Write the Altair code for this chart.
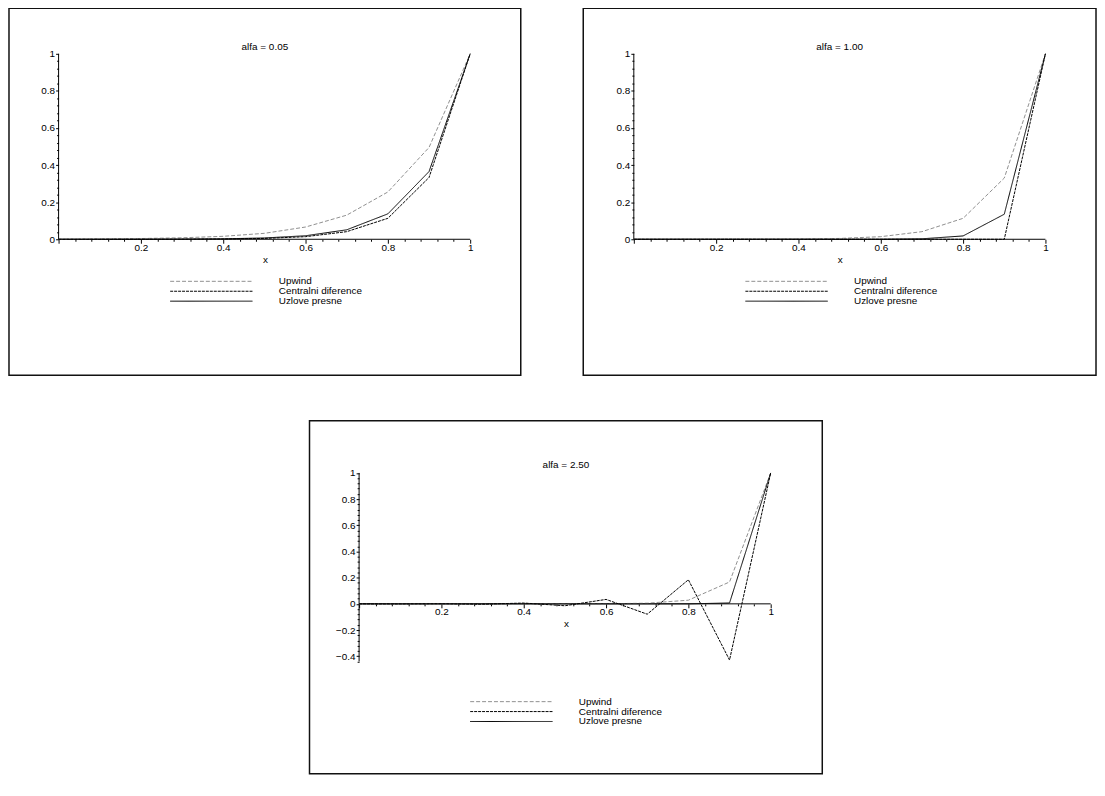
import math
import altair as alt
import pandas as pd

FONT = "Liberation Sans"

# ---- data ----
x_nodes = [0.0, 0.1, 0.2, 0.3, 0.4, 0.5, 0.6, 0.7, 0.8, 0.9, 1.0]
series_names = ["Upwind", "Centralni diference", "Uzlove presne"]

titles = ["alfa = 0.05", "alfa = 1.00", "alfa = 2.50"]

upwind_005 = [0, 0.002, 0.004, 0.008, 0.016, 0.032, 0.066, 0.13, 0.255, 0.495, 1]
central_005 = [0, 0, 0, 0.0005, 0.0015, 0.0045, 0.014, 0.041, 0.113, 0.333, 1]
exact_005 = [0, 0, 0.0003, 0.001, 0.0025, 0.007, 0.019, 0.051, 0.137, 0.365, 1]

upwind_100 = [0, 0, 0, 0.0005, 0.0015, 0.0045, 0.014, 0.041, 0.113, 0.33, 1]
central_100 = [0, 0, 0, 0, 0, 0, 0, 0, 0, 0, 1]
exact_100 = [0, 0, 0, 0, 0, 0, 0, 0.0025, 0.018, 0.135, 1]

upwind_250 = [0, 0, 0, 0, 0, 0, 0.001, 0.005, 0.028, 0.167, 1]
central_250 = [0, -0.0005, 0.001, -0.0027, 0.0062, -0.0145, 0.034, -0.079, 0.184, -0.429, 1]
exact_250 = [0, 0, 0, 0, 0, 0, 0, 0, 0, 0.0067, 1]

# ---- styles ----
line_colors = ["#8f8f8f", "#000000", "#000000"]
line_dashes = [[4, 2], [3, 1], [1, 0]]
line_widths = [1, 1, 1.6]

MAJOR_TEST = "abs(datum.value*5 - round(datum.value*5)) < 0.001"


def make_panel(title, up, cd, ex, box_w, box_h, plot_left, plot_px,
               y1_rel, y0_rel, leg_x, leg_y, clip_h, row_pad, title_y):
    ppy = y0_rel - y1_rel
    x_dom = [-plot_left / plot_px, (box_w - plot_left) / plot_px]
    y_dom = [-(box_h - y0_rel) / ppy, 1 + y1_rel / ppy]

    rows = []
    for name, vals in zip(series_names, [up, cd, ex]):
        for xv, yv in zip(x_nodes, vals):
            rows.append({"x": xv, "y": yv, "series": name})
    df = pd.DataFrame(rows)

    ymin = min(min(up), min(cd), min(ex))
    k0 = math.floor(ymin / 0.04 + 1e-9) if ymin < 0 else 0
    x_ticks = [round(i * 0.04, 2) for i in range(0, 26)]
    y_ticks = [round(i * 0.04, 2) for i in range(k0, 26)]
    y_line_min = min(y_ticks)

    xs = alt.Scale(domain=x_dom, nice=False, zero=False)
    ys = alt.Scale(domain=y_dom, nice=False, zero=False)

    x_tick_size = {"condition": {"test": MAJOR_TEST, "value": 4}, "value": 2}
    y_tick_size = {"condition": {"test": MAJOR_TEST, "value": 3}, "value": 2}

    x_axis = alt.Axis(
        values=x_ticks, orient="bottom", offset=-(box_h - y0_rel),
        domain=False, grid=False, ticks=True, tickSize=x_tick_size,
        tickColor="black", tickWidth=1,
        labelExpr=MAJOR_TEST + " && datum.value > 0.001 ? format(datum.value, '~g') : ''",
        labelFont=FONT, labelFontSize=10, labelColor="black", labelPadding=-1,
        labelOverlap=False, labelFlush=False,
        titleFont=FONT, titleFontSize=10, titleFontWeight="normal",
        titleColor="black", titlePadding=2, minExtent=0,
    )
    y_axis = alt.Axis(
        values=y_ticks, orient="left", offset=-plot_left,
        domain=False, grid=False, ticks=True, tickSize=y_tick_size,
        tickColor="black", tickWidth=1,
        labelExpr=MAJOR_TEST + " ? format(datum.value, '~g') : ''",
        labelFont=FONT, labelFontSize=10, labelColor="black", labelPadding=1,
        labelOverlap=False, labelFlush=False, minExtent=0,
    )

    legend = alt.Legend(
        orient="none", legendX=leg_x, legendY=leg_y, direction="vertical",
        title=None, symbolType="stroke", symbolSize=83 * 83,
        clipHeight=clip_h, rowPadding=row_pad, labelOffset=26, padding=0,
        labelFont=FONT, labelFontSize=10, labelColor="black", labelLimit=300,
    )

    lines = alt.Chart(df).mark_line().encode(
        x=alt.X("x:Q", scale=xs, axis=x_axis, title="x"),
        y=alt.Y("y:Q", scale=ys, axis=y_axis, title=None),
        color=alt.Color("series:N", scale=alt.Scale(domain=series_names, range=line_colors), legend=legend),
        strokeDash=alt.StrokeDash("series:N", scale=alt.Scale(domain=series_names, range=line_dashes), legend=legend),
        strokeWidth=alt.StrokeWidth("series:N", scale=alt.Scale(domain=series_names, range=line_widths), legend=legend),
    )

    axis_df = pd.DataFrame({
        "x": [0.0, 0.0], "x2": [1.0, 0.0],
        "y": [0.0, y_line_min], "y2": [0.0, 1.0],
    })
    axis_lines = alt.Chart(axis_df).mark_rule(color="black", strokeWidth=1).encode(
        x=alt.X("x:Q", scale=xs, axis=x_axis, title="x"),
        x2="x2:Q",
        y=alt.Y("y:Q", scale=ys, axis=y_axis, title=None),
        y2="y2:Q",
    )

    return alt.layer(axis_lines, lines).properties(
        width=box_w, height=box_h,
        title=alt.Title(title, offset=-title_y, frame="group", anchor="middle",
                        baseline="middle", font=FONT, fontSize=10,
                        fontWeight="normal", color="black"),
        view=alt.ViewBackground(stroke="#111111", strokeWidth=1.5, fill="white"),
    )


p1 = make_panel(titles[0], upwind_005, central_005, exact_005,
                516, 370, 50, 415, 46, 233, 162, 270.4, 10, -0.5, 49.3)
p2 = make_panel(titles[1], upwind_100, central_100, exact_100,
                517, 370, 51, 415, 46, 233, 163, 270.4, 10, -0.5, 49.3)
p3 = make_panel(titles[2], upwind_250, central_250, exact_250,
                517, 356, 50, 415, 52.6, 184.6, 161.5, 278.2, 10, -1.4, 54.4)

spacer = alt.Chart(pd.DataFrame({"s": [0]})).mark_point(opacity=0).properties(
    width=302, height=10
)

IND = dict(color="independent", strokeDash="independent", strokeWidth="independent")

top = alt.hconcat(p1, p2, spacing=61).resolve_scale(**IND).resolve_legend(**IND)
bottom = alt.hconcat(spacer, p3, spacing=0).resolve_scale(**IND).resolve_legend(**IND)

chart = alt.vconcat(top, bottom, spacing=44).resolve_scale(**IND).resolve_legend(**IND).properties(
    padding={"left": 0, "top": -4, "right": 0, "bottom": 0}, background="white"
).configure_view(stroke="transparent")

chart.save("out.html", embed_options={"renderer": "svg", "actions": False})
